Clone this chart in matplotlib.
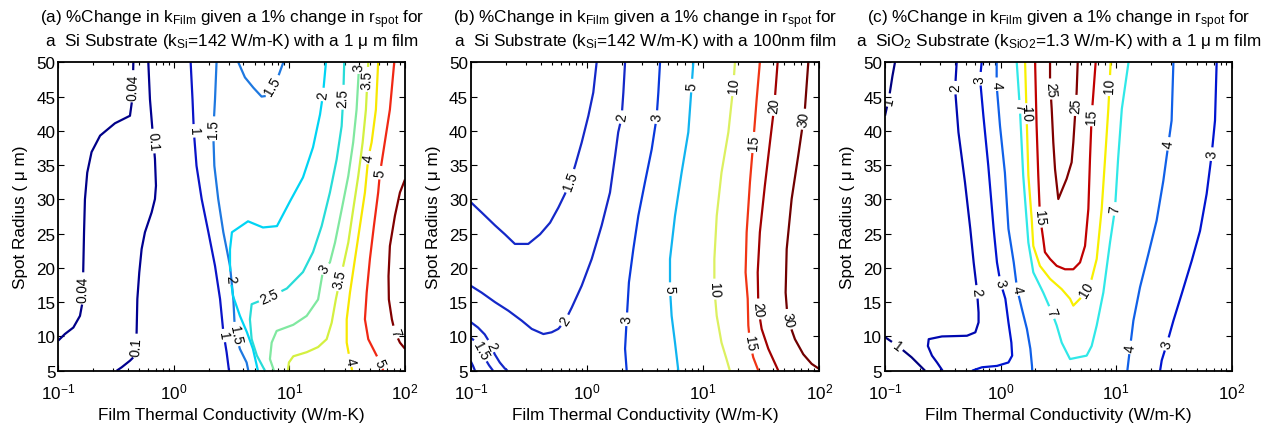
import numpy as np
import matplotlib
matplotlib.use("Agg")
import matplotlib.pyplot as plt
from matplotlib.contour import ContourSet
from matplotlib.ticker import LogLocator, FixedLocator, NullFormatter

plt.rcParams.update({
    'font.family': ['Liberation Sans', 'DejaVu Sans'],
    'mathtext.fontset': 'custom',
    'mathtext.rm': 'Liberation Sans',
    'mathtext.it': 'Liberation Sans:italic',
    'mathtext.bf': 'Liberation Sans:bold',
    'axes.unicode_minus': False,
})

# ---------------- Panel (a): Si substrate, 1 um film ----------------
a_k_004 = [0.446, 0.440, 0.417, 0.309, 0.230, 0.194, 0.178, 0.170, 0.167, 0.164, 0.162, 0.154, 0.135, 0.114, 0.100]
a_r_004 = [50, 45.1, 42.2, 41.1, 39.3, 36.9, 33.9, 30.0, 25.2, 18.9, 15.0, 13.0, 11.3, 10.35, 9.4]
a_k_01 = [0.601, 0.621, 0.655, 0.686, 0.700, 0.686, 0.642, 0.562, 0.526, 0.502, 0.483, 0.476, 0.461, 0.417, 0.353, 0.320]
a_r_01 = [50, 44.6, 39.8, 35.9, 32.0, 30.05, 28.1, 25.2, 22.75, 19.35, 15.46, 10.6, 7.2, 6.46, 5.49, 5.0]
a_k_1 = [1.397, 1.45, 1.49, 1.57, 1.74, 1.99, 2.27, 2.51, 2.68, 2.86, 3.0]
a_r_1 = [50, 44.6, 39.8, 34.9, 30.05, 25.2, 20.3, 15.46, 10.6, 7.7, 5]
a_k_15 = [2.34, 2.27, 2.19, 2.24, 2.42, 2.68, 3.06, 3.27, 3.38, 3.73, 4.26, 4.41]
a_r_15 = [50, 44.6, 39.8, 34.9, 30.05, 25.2, 20.3, 15.46, 10.6, 8.16, 6.2, 5]
a_k_15b = [3.61, 4.12, 4.87, 5.74, 6.35, 8.02, 8.86]
a_r_15b = [50, 47.8, 46.3, 45.0, 45.1, 48.0, 50]
a_k_2 = [20.7, 19.5, 18.4, 16.0, 13.1, 10.1, 7.80, 5.90, 4.38, 3.18, 3.06, 3.06, 3.12, 3.25, 3.73, 4.29, 4.83, 5.34]
a_r_2 = [50, 45.3, 42.4, 37.6, 33.2, 29.7, 26.1, 25.9, 26.8, 25.2, 22.7, 20.2, 18.1, 15.9, 13.0, 10.6, 8.2, 5]
a_k_25 = [29.8, 29.2, 28.3, 25.6, 22.4, 19.0, 16.0, 13.1, 9.5, 6.78, 4.71, 4.55, 4.71, 5.23, 6.14]
a_r_25 = [50, 44.9, 40.7, 35.8, 31.0, 26.1, 22.3, 19.4, 17.0, 15.9, 14.7, 12.5, 9.6, 7.2, 5]
a_k_3 = [40.2, 38.1, 35.6, 32.3, 28.3, 24.8, 22.4, 19.6, 17.7, 14.1, 10.8, 7.75, 7.02, 6.78, 7.35]
a_r_3 = [50, 43.1, 38.3, 33.4, 28.5, 23.7, 20.8, 19.8, 15.4, 13.0, 11.7, 10.8, 9.1, 6.7, 5]
a_k_35 = [48.1, 45.9, 43.0, 39.4, 35.6, 32.3, 29.2, 27.4, 25.2, 23.2, 21.0, 17.7, 14.1, 10.8, 9.9, 9.7]
a_r_35 = [50, 43.1, 38.3, 33.4, 28.5, 23.7, 20.3, 18.4, 15.4, 12.0, 9.6, 8.45, 7.7, 7.1, 6.2, 5]
a_k_4 = [58.6, 56.0, 51.4, 48.1, 45.0, 40.7, 36.9, 33.4, 31.3, 31.3, 33.4, 34.9]
a_r_4 = [50, 43.1, 38.3, 36.1, 31.0, 26.1, 21.3, 16.4, 12.5, 9.1, 6.5, 5]
a_k_5 = [80.7, 74.0, 60.7, 58.6, 53.8, 49.7, 46.6, 45.0, 48.1, 54.9, 60.7, 64.8]
a_r_5 = [50, 43.1, 33.9, 31.0, 26.1, 21.3, 16.4, 12.5, 9.6, 7.7, 6.2, 5]
a_k_7 = [100, 90.4, 81.8, 74.0, 72.0, 72.5, 77.0, 81.8, 90.4, 100]
a_r_7 = [32.9, 31.0, 27.6, 23.2, 18.8, 15.4, 12.5, 10.6, 9.1, 8.2]

# ---------------- Panel (b): Si substrate, 100 nm film ----------------
b_k_1 = [0.1, 0.1047, 0.1089]
b_r_1 = [6.4, 5.7, 5]
b_k_15a = [0.1, 0.124, 0.162, 0.197, 0.240, 0.313, 0.395, 0.482, 0.568, 0.648, 0.716, 0.791, 0.902, 1.03, 1.135, 1.213]
b_r_15a = [29.6, 28.1, 26.2, 24.9, 23.5, 23.5, 24.9, 26.6, 28.8, 30.8, 32.7, 34.9, 38.3, 42.2, 45.6, 50]
b_k_15b = [0.1, 0.111, 0.120, 0.130, 0.1437, 0.1556]
b_r_15b = [9.8, 9.2, 8.2, 7.0, 5.8, 5]
b_k_2a = [0.1, 0.124, 0.162, 0.211, 0.275, 0.335, 0.422, 0.497, 0.568, 0.648, 0.740, 0.902, 1.10, 1.34, 1.58, 1.75, 1.86, 1.99, 2.06, 2.13]
b_r_2a = [17.4, 16.4, 15.0, 13.75, 12.3, 11.1, 10.35, 10.6, 11.1, 12.3, 14.2, 17.4, 21.3, 26.2, 31.0, 36.4, 39.8, 42.0, 45.6, 50]
b_k_2b = [0.1, 0.1156, 0.132, 0.1457, 0.150, 0.161, 0.178, 0.196, 0.207]
b_r_2b = [12.1, 11.3, 10.3, 9.1, 8.6, 7.4, 6.2, 5.35, 5]
b_k_3 = [4.26, 4.12, 3.98, 3.61, 3.16, 2.77, 2.51, 2.30, 2.20, 2.13, 2.20]
b_r_3 = [50, 45.6, 42.0, 37.3, 32.5, 27.6, 22.75, 17.9, 12.5, 8.2, 5]
b_k_5 = [8.24, 7.97, 7.46, 6.53, 5.73, 5.19, 5.19, 5.36, 5.73, 6.12]
b_r_5 = [50, 46.6, 39.8, 33.9, 27.6, 21.3, 16.9, 13.0, 9.1, 5]
b_k_10 = [18.8, 18.2, 16.5, 14.4, 13.1, 12.5, 12.5, 13.1, 14.4, 15.9, 17.0]
b_r_10 = [50, 46.6, 39.8, 33.9, 27.6, 21.3, 16.9, 13.0, 9.1, 6.7, 5]
b_k_15 = [30.8, 28.9, 27.0, 25.3, 23.7, 23.2, 24.2, 24.5, 25.3, 27.0, 29.9]
b_r_15 = [50, 44.6, 38.3, 32.5, 25.2, 19.35, 15.5, 11.6, 9.1, 6.95, 5]
b_k_20 = [43.8, 41.0, 37.6, 34.0, 30.8, 29.5, 29.9, 31.9, 36.4, 44.4]
b_r_20 = [50, 43.7, 38.3, 32.0, 25.2, 19.35, 14.0, 11.1, 8.2, 5]
b_k_30 = [80.4, 75.2, 65.9, 57.8, 52.4, 51.3, 53.4, 61.7, 72.8, 85.9, 100]
b_r_30 = [50, 43.2, 36.4, 30.05, 22.75, 16.4, 12.5, 9.6, 7.4, 6.0, 5.25]

# ---------------- Panel (c): SiO2 substrate, 1 um film ----------------
c_k_1a = [0.1, 0.109, 0.116, 0.122]
c_r_1a = [42.2, 45.1, 48.0, 50]
c_k_1b = [0.1, 0.130, 0.170, 0.222]
c_r_1b = [9.9, 8.5, 6.95, 5]
c_k_2 = [0.417, 0.404, 0.432, 0.492, 0.547, 0.585, 0.625, 0.645, 0.645, 0.605, 0.512, 0.311, 0.239, 0.235, 0.255, 0.282, 0.315]
c_r_2 = [50, 46.1, 39.8, 32.5, 25.7, 20.8, 16.7, 13.5, 12.05, 10.6, 10.1, 10.0, 9.6, 8.6, 7.2, 6.2, 5]
c_k_3a = [0.686, 0.664, 0.710, 0.783, 0.871, 0.931, 0.995, 1.10, 1.17, 1.24, 1.26, 1.17, 0.931, 0.690, 0.567]
c_r_3a = [50, 47.6, 42.2, 34.9, 25.7, 20.8, 17.9, 15.5, 12.05, 9.1, 7.2, 6.2, 5.7, 5.5, 5]
c_k_4a = [0.925, 0.925, 0.989, 1.09, 1.17, 1.30, 1.39, 1.53, 1.69, 1.81, 1.87, 1.88]
c_r_4a = [50, 46.6, 40.7, 33.9, 25.7, 20.8, 16.9, 14.0, 11.1, 8.2, 5.7, 5]
c_k_7 = [1.38, 1.47, 1.57, 1.74, 1.92, 2.34, 2.77, 3.06, 3.38, 3.99, 5.56, 6.14, 6.79, 7.75, 8.85, 9.77, 10.4, 11.2, 12.8]
c_r_7 = [50, 43.2, 33.5, 23.7, 19.35, 16.4, 13.5, 11.6, 9.1, 6.7, 7.2, 8.6, 11.6, 16.4, 23.7, 28.6, 35.9, 43.2, 50]
c_k_10 = [1.63, 1.68, 1.74, 1.86, 1.92, 2.19, 2.68, 3.38, 3.99, 4.26, 4.87, 5.56, 6.14, 6.79, 7.50, 8.02, 8.56, 8.97]
c_r_10 = [50, 42.2, 33.5, 27.1, 23.2, 20.3, 18.4, 16.9, 15.5, 14.5, 15.5, 16.9, 18.4, 21.3, 28.6, 35.9, 43.2, 50]
c_k_15 = [1.99, 2.05, 2.12, 2.19, 2.34, 2.42, 2.68, 3.06, 3.61, 4.26, 4.87, 5.38, 5.75, 5.94, 6.14, 6.65]
c_r_15 = [50, 40.75, 33.5, 27.6, 24.2, 22.3, 21.3, 20.3, 19.8, 19.8, 20.8, 23.2, 28.6, 35.9, 42.2, 50]
c_k_25 = [2.68, 2.68, 2.77, 2.86, 2.96, 3.16, 3.73, 4.12, 4.26, 4.41, 4.55, 4.65]
c_r_25 = [50, 47.1, 43.2, 38.3, 34.4, 30.05, 33.0, 35.4, 38.3, 42.2, 45.6, 50]
c_k_4b = [31.3, 30.2, 28.3, 25.6, 22.4, 19.0, 16.1, 14.1, 13.2, 12.5]
c_r_4b = [50, 41.5, 38.1, 32.7, 26.9, 22.0, 17.2, 12.3, 8.4, 5]
c_k_3b = [74.1, 71.7, 67.1, 60.7, 53.2, 45.1, 36.9, 31.3, 27.4, 24.8, 24.0]
c_r_3b = [50, 41.5, 36.6, 30.8, 25.4, 21.05, 16.2, 12.3, 8.9, 6.5, 5]

x_ticks = [0.1, 1, 10, 100]
y_ticks = [5, 10, 15, 20, 25, 30, 35, 40, 45, 50]

titles = [
    ("(a) %Change in k$_{\\rm Film}$ given a 1% change in r$_{\\rm spot}$ for",
     "a  Si Substrate (k$_{\\rm Si}$=142 W/m-K) with a 1 \u03bc m film"),
    ("(b) %Change in k$_{\\rm Film}$ given a 1% change in r$_{\\rm spot}$ for",
     "a  Si Substrate (k$_{\\rm Si}$=142 W/m-K) with a 100nm film"),
    ("(c) %Change in k$_{\\rm Film}$ given a 1% change in r$_{\\rm spot}$ for",
     "a  SiO$_{\\rm 2}$ Substrate (k$_{\\rm SiO2}$=1.3 W/m-K) with a 1 \u03bc m film"),
]
xlabel = "Film Thermal Conductivity (W/m-K)"
ylabel = "Spot Radius ( \u03bc m)"

# ---------------- styles ----------------
a_pieces = [(0.04, a_k_004, a_r_004), (0.1, a_k_01, a_r_01), (1, a_k_1, a_r_1),
            (1.5, a_k_15, a_r_15), (1.5, a_k_15b, a_r_15b), (2, a_k_2, a_r_2),
            (2.5, a_k_25, a_r_25), (3, a_k_3, a_r_3), (3.5, a_k_35, a_r_35),
            (4, a_k_4, a_r_4), (5, a_k_5, a_r_5), (7, a_k_7, a_r_7)]
a_colors = {0.04: '#000088', 0.1: '#000090', 1: '#0a14c8', 1.5: '#1e78e0', 2: '#00d4f4',
            2.5: '#28dcd8', 3: '#80e8a0', 3.5: '#d4f040', 4: '#f8e800', 5: '#f02814', 7: '#800000'}
a_labels = [(0.44, 46.5), (0.164, 17), (0.66, 38.5), (0.47, 8.6), (1.49, 40), (2.65, 10.1),
            (2.19, 40.3), (3.38, 10.3), (7.2, 46.5), (19.6, 45.3), (3.06, 18.5), (29.2, 44.9),
            (6.7, 15.9), (39.5, 49.3), (20.3, 19.8), (47.5, 47.5), (27.4, 18.4), (48.1, 36.1),
            (33.4, 6.5), (60.7, 33.9), (60.7, 6.2), (81.8, 10.6)]

b_pieces = [(1, b_k_1, b_r_1), (1.5, b_k_15a, b_r_15a), (1.5, b_k_15b, b_r_15b),
            (2, b_k_2a, b_r_2a), (2, b_k_2b, b_r_2b), (3, b_k_3, b_r_3), (5, b_k_5, b_r_5),
            (10, b_k_10, b_r_10), (15, b_k_15, b_r_15), (20, b_k_20, b_r_20), (30, b_k_30, b_r_30)]
b_colors = {1: '#1020c0', 1.5: '#1428c8', 2: '#1428c8', 3: '#0838dc', 5: '#10b4f0',
            10: '#dcf060', 15: '#f03414', 20: '#a00000', 30: '#700000'}
b_labels = [(0.716, 32.7), (0.648, 12.3), (1.99, 42), (0.150, 8.6), (0.12, 7.9), (3.98, 42),
            (2.20, 12.5), (8.0, 46.6), (5.19, 16.9), (18.2, 46.6), (12.5, 16.9), (27.0, 38.3),
            (25.3, 9.0), (41.5, 43.7), (29.9, 14.0), (73, 41.7), (54, 12.5)]

c_pieces = [(1, c_k_1a, c_r_1a), (1, c_k_1b, c_r_1b), (2, c_k_2, c_r_2), (3, c_k_3a, c_r_3a),
            (3, c_k_3b, c_r_3b), (4, c_k_4a, c_r_4a), (4, c_k_4b, c_r_4b), (7, c_k_7, c_r_7),
            (10, c_k_10, c_r_10), (15, c_k_15, c_r_15), (25, c_k_25, c_r_25)]
c_colors = {1: '#000080', 2: '#0008b0', 3: '#0014d0', 4: '#1060e8', 7: '#30e8e8',
            10: '#f8f000', 15: '#c00000', 25: '#800000'}
c_labels = [(0.107, 44.5), (0.127, 8.6), (0.404, 46.3), (0.62, 16.5), (0.664, 47.6), (1.0, 17.8),
            (0.925, 46.8), (1.40, 16.9), (1.45, 43.5), (2.77, 13.5), (9.9, 28.6), (1.67, 42.5),
            (5.56, 16.9), (8.9, 46.6), (2.19, 27.4), (6.14, 42.2), (2.68, 46.1), (4.55, 43.7),
            (28.3, 38.1), (13.2, 8.4), (67.1, 36.6), (27.4, 8.9)]

W, H = 1270, 431
fig = plt.figure(figsize=(W / 100, H / 100), dpi=100)
ax_px = [(58.3, 346.7), (470.7, 348.6), (885.0, 346.7)]
top_px, bot_px = 63.3, 371.7

FS = 12.3


def draw_panel(ax, pieces, colors, label_pos):
    ax.set_xscale('log')
    levels = sorted(set(p[0] for p in pieces))
    allsegs = [[np.column_stack([k, r]) for lv, k, r in pieces if lv == L] for L in levels]
    cs = ContourSet(ax, levels, allsegs, colors=[colors[L] for L in levels],
                    linewidths=1.6)
    ax.set_xlim(0.1, 100)
    ax.set_ylim(5, 50)
    ax.clabel(cs, inline=True, inline_spacing=3, fontsize=9.8, colors='k',
              fmt=lambda v: f"{v:g}", manual=label_pos)


panels = [(a_pieces, a_colors, a_labels), (b_pieces, b_colors, b_labels),
          (c_pieces, c_colors, c_labels)]

for i, ((left, width), (pieces, colors, lpos)) in enumerate(zip(ax_px, panels)):
    ax = fig.add_axes([left / W, (H - bot_px) / H, width / W, (bot_px - top_px) / H])
    draw_panel(ax, pieces, colors, lpos)
    ax.xaxis.set_major_locator(FixedLocator(x_ticks))
    ax.xaxis.set_minor_locator(LogLocator(base=10, subs=np.arange(2, 10)))
    ax.xaxis.set_minor_formatter(NullFormatter())
    ax.set_yticks(y_ticks)
    ax.tick_params(which='both', direction='in', top=True, right=True, labelsize=FS, width=0.8)
    ax.tick_params(which='major', length=4)
    ax.tick_params(which='minor', length=2.5)
    ax.tick_params(axis='x', pad=8)
    ax.tick_params(axis='y', pad=2)
    for s in ax.spines.values():
        s.set_linewidth(1.3)
    ax.set_xlabel(xlabel, fontsize=FS, labelpad=4)
    ax.set_ylabel(ylabel, fontsize=FS, labelpad=6)
    l1, l2 = titles[i]
    cx = (left + width / 2) / W
    fig.text(cx, (H - 23) / H, l1, ha='center', va='baseline', fontsize=FS)
    fig.text(cx, (H - 46) / H, l2, ha='center', va='baseline', fontsize=FS)

fig.savefig("out.png", dpi=100)
